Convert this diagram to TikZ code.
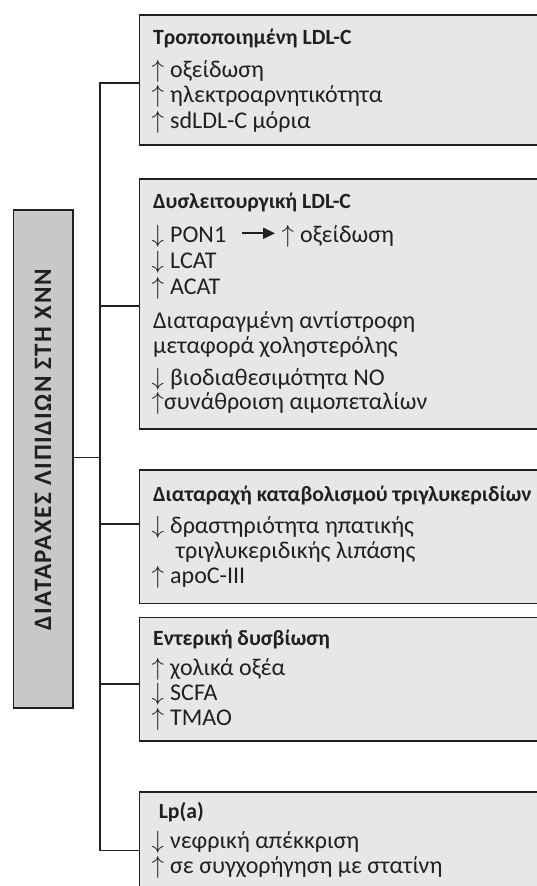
\documentclass[tikz,border=0pt]{standalone}
\usepackage{fontspec}
\setmainfont{Carlito}
\usetikzlibrary{arrows.meta}
\definecolor{boxfill}{HTML}{E6E7E8}
\definecolor{titlefill}{HTML}{C7C8CA}
\definecolor{linec}{HTML}{231F20}
\newcommand\uparr{\makebox[18.5pt][l]{$\uparrow$}}
\newcommand\dnarr{\makebox[18.5pt][l]{$\downarrow$}}
\newcommand\uparrtight{\makebox[12.5pt][l]{$\uparrow$}}
\begin{document}
\begin{tikzpicture}[x=1pt,y=-1pt,
  box/.style={draw=linec, line width=1.6pt, fill=boxfill, anchor=north west, inner sep=0pt, minimum width=430pt},
  tbox/.style={draw=linec, line width=1.6pt, fill=titlefill, anchor=north west, inner sep=0pt},
  conn/.style={draw=linec, line width=1.3pt},
  txt/.style={anchor=base west, inner sep=0pt, text=linec, font=\fontsize{24}{27}\selectfont},
  head/.style={txt, font=\fontsize{21.7}{26}\selectfont\bfseries},
  ttext/.style={inner sep=0pt, text=linec, rotate=90, font=\fontsize{25}{28}\selectfont\bfseries\addfontfeatures{LetterSpace=6}},
  bigarr/.style={draw=linec, line width=2pt, -{Triangle[length=12pt,width=11pt]}}
]
\useasboundingbox (0,0) rectangle (537,886);

% spine coordinates
\coordinate (s1) at (100,83);
\coordinate (s2) at (100,306);
\coordinate (s0) at (100,457.7);
\coordinate (s3) at (100,524);
\coordinate (s4) at (100,684);
\coordinate (s5) at (100,850.7);

% boxes
\node[box, minimum height=129.7pt] (b1) at (138.7,14.3) {};
\node[box, minimum height=250pt] (b2) at (138.7,178) {};
\node[box, minimum height=133.7pt] (b3) at (138.7,469) {};
\node[box, minimum height=123.3pt] (b4) at (138.7,616.7) {};
\node[box, minimum height=130pt] (b5) at (138.7,791) {};
\node[tbox, minimum width=59.3pt, minimum height=498pt] (T) at (12.7,209) {};

% connectors
\draw[conn] (b1.west |- s1) -- (s1) -- (s5) -- (b5.west |- s5);
\draw[conn] (s2) -- (b2.west |- s2);
\draw[conn] (s3) -- (b3.west |- s3);
\draw[conn] (s4) -- (b4.west |- s4);
\draw[conn] (T.east |- s0) -- (s0);

% title
\node[ttext] (Tt) at (43,450) {ΔΙΑΤΑΡΑΧΕΣ ΛΙΠΙΔΙΩΝ ΣΤΗ ΧΝΝ};

% box 1
\node[head] (h1) at (153,44) {Τροποποιημένη LDL-C};
\node[txt] (l1a) at (151.5,77) {\uparr οξείδωση};
\node[txt] (l1b) at (151.5,102) {\uparr ηλεκτροαρνητικότητα};
\node[txt] (l1c) at (151.5,128) {\uparr sdLDL-C μόρια};

% box 2
\node[head] (h2) at (153,208) {Δυσλειτουργική LDL-C};
\node[txt] (pon) at (151.5,242) {\dnarr PON1};
\node[txt] (ox) at (281.5,242) {\uparr οξείδωση};
\draw[bigarr] ([xshift=16pt,yshift=8.7pt]pon.base east) -- ([xshift=-6.5pt,yshift=8.7pt]ox.base west);
\node[txt] (l2b) at (151.5,268) {\dnarr LCAT};
\node[txt] (l2c) at (151.5,294) {\uparr ACAT};
\node[txt] (l2d) at (153,328) {Διαταραγμένη αντίστροφη};
\node[txt] (l2e) at (153,353) {μεταφορά χοληστερόλης};
\node[txt] (l2f) at (151.5,385) {\dnarr βιοδιαθεσιμότητα NO};
\node[txt] (l2g) at (151.5,409) {\uparrtight συνάθροιση αιμοπεταλίων};

% box 3
\node[head] (h3) at (153,501) {Διαταραχή καταβολισμού τριγλυκεριδίων};
\node[txt] (l3a) at (151.5,533) {\dnarr δραστηριότητα ηπατικής};
\node[txt] (l3b) at (175.7,558) {τριγλυκεριδικής λιπάσης};
\node[txt] (l3c) at (151.5,583) {\uparr apoC-III};

% box 4
\node[head] (h4) at (153,645) {Εντερική δυσβίωση};
\node[txt] (l4a) at (151.5,675) {\uparr χολικά οξέα};
\node[txt] (l4b) at (151.5,700) {\dnarr SCFA};
\node[txt] (l4c) at (151.5,725) {\uparr TMAO};

% box 5
\node[head] (h5) at (158.6,818) {Lp(a)};
\node[txt] (l5a) at (151.5,848) {\dnarr νεφρική απέκκριση};
\node[txt] (l5b) at (151.5,873) {\uparr σε συγχορήγηση με στατίνη};
\end{tikzpicture}
\end{document}
